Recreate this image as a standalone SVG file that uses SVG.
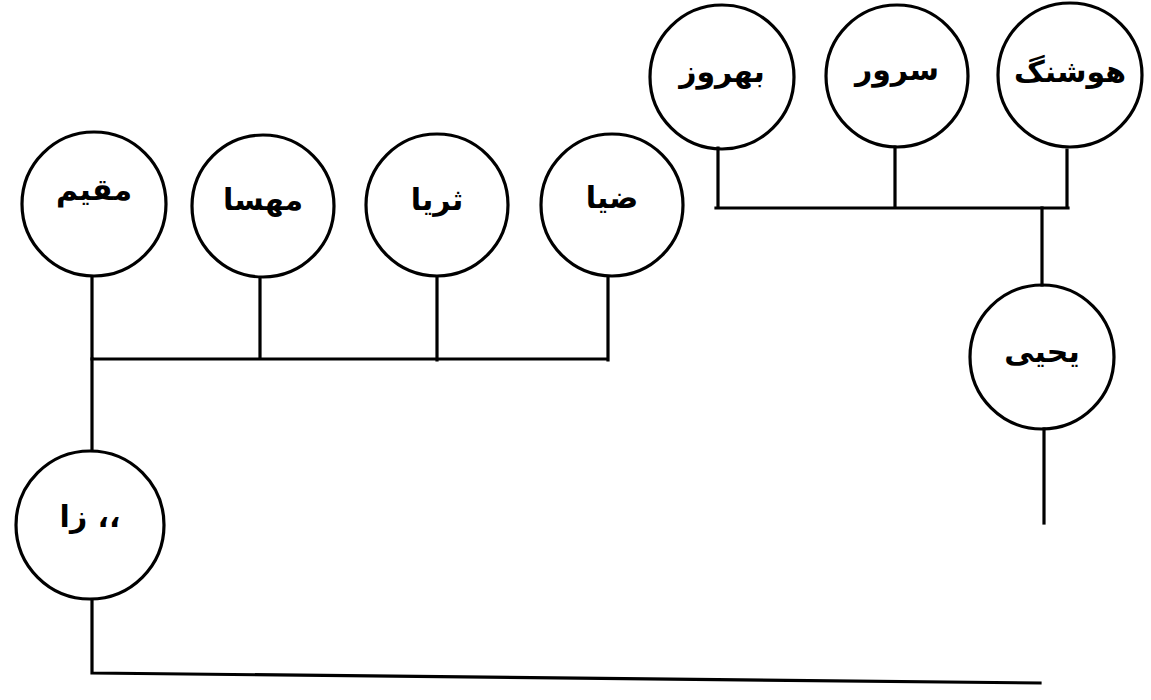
<svg xmlns="http://www.w3.org/2000/svg" width="1151" height="700" viewBox="0 0 1151 700">
<style>
.n circle{fill:none;stroke:#000;stroke-width:3.2}
.n text{font-family:"DejaVu Sans",sans-serif;font-size:30px;font-weight:bold;fill:#000;text-anchor:middle;direction:rtl}
.c{fill:none;stroke:#000;stroke-width:3.2;stroke-linecap:square}
</style>
<rect width="1151" height="700" fill="#fff"/>
<g id="connectors">
<path class="c" d="M92 277V359M260 278V359M437 277V360M608 277V360M92 359H608"/>
<path class="c" d="M92 359V449"/>
<path class="c" d="M92 600V673L1040 683"/>
<path class="c" d="M718 148V208M895 147V208M1067 150V208M716 208H1068"/>
<path class="c" d="M1042 208V285"/>
<path class="c" d="M1044 429V523"/>
</g>
<g id="n1" class="n"><circle cx="94" cy="204" r="72"/><text x="94" y="200">مقیم</text></g>
<g id="n2" class="n"><circle cx="263" cy="206" r="71"/><text x="263" y="210">مهسا</text></g>
<g id="n3" class="n"><circle cx="437" cy="205" r="71"/><text x="437" y="210">ثریا</text></g>
<g id="n4" class="n"><circle cx="612" cy="205" r="71"/><text x="612" y="208">ضیا</text></g>
<g id="n5" class="n"><circle cx="90" cy="525" r="74"/><text x="90" y="527">،، زا</text></g>
<g id="n6" class="n"><circle cx="722" cy="77" r="72"/><text x="722" y="82">بهروز</text></g>
<g id="n7" class="n"><circle cx="897" cy="76" r="71"/><text x="897" y="80">سرور</text></g>
<g id="n8" class="n"><circle cx="1070" cy="75" r="72"/><text x="1070" y="82">هوشنگ</text></g>
<g id="n9" class="n"><circle cx="1042" cy="357" r="72"/><text x="1042" y="362">یحیی</text></g>
</svg>
